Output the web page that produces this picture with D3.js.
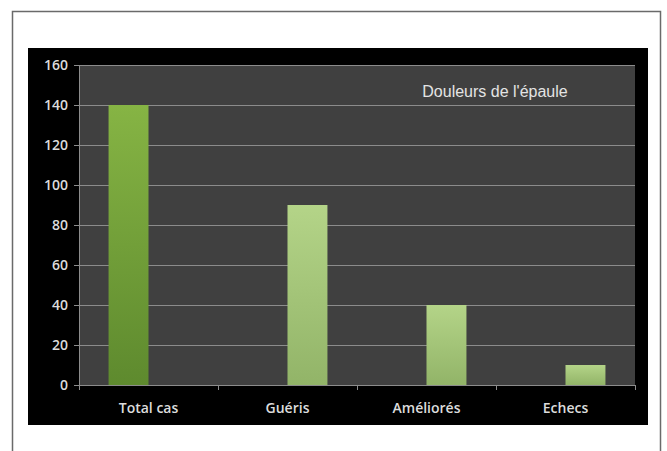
<!DOCTYPE html>
<html>
<head>
<meta charset="utf-8">
<script src="https://cdn.jsdelivr.net/npm/d3@7"></script>
<style>
  body { margin: 0; background: #fff; }
  svg { display: block; }
</style>
</head>
<body>
<svg id="chart"></svg>
<script>
const categories = ["Total cas", "Guéris", "Améliorés", "Echecs"];
const seriesTotal = [140, 0, 0, 0];
const seriesResult = [0, 90, 40, 10];
const yTicks = [0, 20, 40, 60, 80, 100, 120, 140, 160];
const title = "Douleurs de l'épaule";

const W = 667, H = 451;
const svg = d3.select("#chart").attr("width", W).attr("height", H);

// outer frame
svg.append("rect")
    .attr("x", 12.5).attr("y", 11.5)
    .attr("width", 648).attr("height", 460)
    .attr("fill", "#fff").attr("stroke", "#6a6a6a").attr("stroke-width", 1.5);

// black panel
svg.append("rect")
    .attr("x", 28).attr("y", 48)
    .attr("width", 620).attr("height", 377)
    .attr("fill", "#000");

const plot = {left: 79, right: 635, top: 65, bottom: 385};

const x = d3.scaleBand().domain(categories).range([plot.left, plot.right]).padding(0);
const sub = d3.scaleBand().domain(["total", "result"])
    .range([0, x.bandwidth()]).paddingInner(0).paddingOuter(0.74);
const y = d3.scaleLinear().domain([0, 160]).range([plot.bottom, plot.top]);

svg.append("rect")
    .attr("x", plot.left).attr("y", plot.top)
    .attr("width", plot.right - plot.left).attr("height", plot.bottom - plot.top)
    .attr("fill", "#404040");

// gradients
const defs = svg.append("defs");
function grad(id, c1, c2) {
    const g = defs.append("linearGradient").attr("id", id)
        .attr("x1", 0).attr("y1", 0).attr("x2", 0).attr("y2", 1);
    g.append("stop").attr("offset", "0%").attr("stop-color", c1);
    g.append("stop").attr("offset", "100%").attr("stop-color", c2);
}
grad("gTotal", "#86b444", "#5e8a2e");
grad("gResult", "#b4d488", "#92b468");

// gridlines
svg.append("g").selectAll("line").data(yTicks.filter(d => d > 0)).join("line")
    .attr("x1", plot.left).attr("x2", plot.right)
    .attr("y1", d => y(d) + 0.5).attr("y2", d => y(d) + 0.5)
    .attr("stroke", "#8c8c8c").attr("stroke-width", 1);

// bars
const bars = [];
categories.forEach((c, i) => {
    bars.push({cat: c, key: "total", v: seriesTotal[i]});
    bars.push({cat: c, key: "result", v: seriesResult[i]});
});
svg.append("g").selectAll("rect").data(bars.filter(d => d.v > 0)).join("rect")
    .attr("x", d => x(d.cat) + sub(d.key))
    .attr("width", sub.bandwidth())
    .attr("y", d => y(d.v))
    .attr("height", d => y(0) - y(d.v))
    .attr("fill", d => d.key == "total" ? "url(#gTotal)" : "url(#gResult)");

// y axis
const yAxis = svg.append("g")
    .attr("transform", `translate(${plot.left},0)`)
    .call(d3.axisLeft(y).tickValues(yTicks).tickSize(5).tickPadding(6));
yAxis.select(".domain").attr("stroke", "#8c8c8c");
yAxis.selectAll(".tick line").attr("stroke", "#8c8c8c");
yAxis.selectAll("text")
    .attr("fill", "#dcdcdc")
    .attr("font-family", "Open Sans, sans-serif")
    .attr("font-weight", 600)
    .attr("font-size", 14);

// x axis
const xAxis = svg.append("g")
    .attr("transform", `translate(0,${plot.bottom})`)
    .call(d3.axisBottom(x).tickSize(0).tickPadding(18));
xAxis.select(".domain").attr("stroke", "#8c8c8c");
xAxis.selectAll("text")
    .attr("fill", "#dcdcdc")
    .attr("font-family", "Open Sans, sans-serif")
    .attr("font-weight", 600)
    .attr("font-size", 14);
svg.append("g").selectAll("line").data(categories.concat(["end"])).join("line")
    .attr("x1", (d, i) => plot.left + i * x.step() + 0.5)
    .attr("x2", (d, i) => plot.left + i * x.step() + 0.5)
    .attr("y1", plot.bottom).attr("y2", plot.bottom + 5)
    .attr("stroke", "#8c8c8c");

// title
svg.append("text")
    .attr("x", 495).attr("y", 97)
    .attr("text-anchor", "middle")
    .attr("fill", "#e4e4e4")
    .attr("font-family", "Liberation Sans, Arial, sans-serif")
    .attr("font-size", 16)
    .text(title);
</script>
</body>
</html>
